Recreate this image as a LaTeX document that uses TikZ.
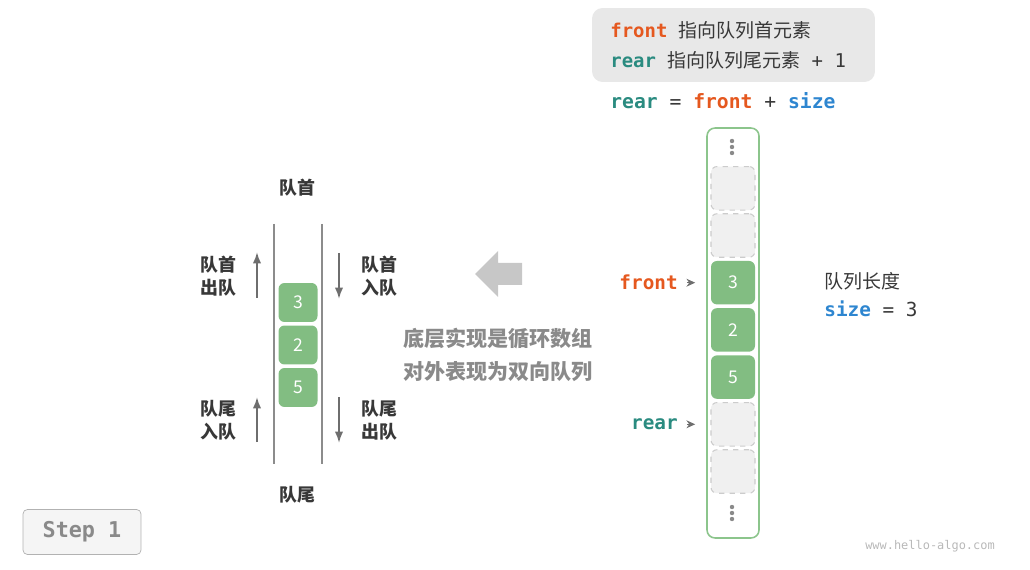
\documentclass[tikz,border=0pt]{standalone}
\usepackage{fontspec}
\setmainfont{Noto Sans CJK SC}
\setmonofont{DejaVu Sans Mono}
\usetikzlibrary{arrows.meta, positioning}

\definecolor{frontc}{HTML}{E5581F}
\definecolor{rearc}{HTML}{2A8B80}
\definecolor{sizec}{HTML}{2E86D0}
\definecolor{cellg}{HTML}{82BD82}
\definecolor{rimg}{HTML}{8CC58C}
\definecolor{slotc}{HTML}{F0F0F0}
\definecolor{txt}{HTML}{383838}
\definecolor{arrg}{HTML}{6E6E6E}
\definecolor{hintc}{HTML}{8A8A8A}

\newcommand{\cw}[2]{{\ttfamily\bfseries\textcolor{#1}{#2}}}

\begin{document}
\begin{tikzpicture}[x=0.02cm, y=-0.02cm,
			every node/.style={font=\fontsize{10.8pt}{13pt}\selectfont, text=txt},
			infobox/.style={fill=black!9, rounded corners=6pt, minimum width=5.66cm,
				minimum height=1.48cm},
			rim/.style={draw=rimg, line width=0.9pt, fill=white, rounded corners=4.5pt,
				minimum width=1.04cm, minimum height=8.2cm},
			cell/.style={fill=cellg, rounded corners=3.4pt, minimum width=0.88cm,
				minimum height=0.87cm, inner sep=0pt, outer sep=0pt, text=white,
				font=\fontsize{10pt}{12pt}\selectfont},
			slot/.style={cell, fill=slotc, draw=black!20, dashed, line width=0.6pt},
			qcell/.style={cell, minimum width=0.78cm, minimum height=0.78cm},
			wall/.style={draw=black!45, line width=0.6pt},
			move/.style={draw=arrg, line width=1.1pt, -{Latex[length=6.5pt, width=4.8pt]}},
			ptr/.style={draw=arrg, line width=0.6pt, -{Stealth[length=5pt, width=4.5pt]},
				shorten <=5pt, shorten >=9pt},
			side/.style={font=\bfseries\fontsize{10.2pt}{13pt}\selectfont, align=center},
			hint/.style={font=\bfseries\fontsize{12pt}{18.7pt}\selectfont, text=hintc,
				align=center},
			]
			\useasboundingbox (0,0) rectangle (1030,570);

			% Info box
			\node[infobox] (info) at (733.5,45) {};
			\node[anchor=west, inner sep=0pt] (line1) at (610,30)
			{\cw{frontc}{front\ }指向队列首元素};
			\node[anchor=west, inner sep=0pt] (line2) at (610,60)
			{\cw{rearc}{rear\ }指向队列尾元素{\ttfamily\ +\ 1}};
			\node[anchor=west, inner sep=0pt, font=\fontsize{11.2pt}{13pt}\selectfont] (rule) at (610,101)
			{\cw{rearc}{rear}{\ttfamily\ =\ }\cw{frontc}{front}{\ttfamily\ +\ }\cw{sizec}{size}};

			% Circular array
			\node[rim] (ring) at (733,333) {};
			\node[slot] (c1) at (733,188.3) {};
			\node[slot] (c2) at (733,235.5) {};
			\node[cell] (c3) at (733,282.7) {3};
			\node[cell] (c4) at (733,329.9) {2};
			\node[cell] (c5) at (733,377.1) {5};
			\node[slot] (c6) at (733,424.3) {};
			\node[slot] (c7) at (733,471.5) {};
			\foreach \y in {141,147,153,507,513,519}
			\fill[hintc] (732,\y) circle (2.2);

			% Pointers
			\node[left=0.66cm of c3, inner sep=0pt, font=\fontsize{11pt}{13pt}\selectfont] (frontlbl) {\cw{frontc}{front}};
			\node[left=0.66cm of c6, inner sep=0pt, font=\fontsize{11pt}{13pt}\selectfont] (rearlbl) {\cw{rearc}{rear}};
			\draw[ptr] (frontlbl) -- (c3);
			\draw[ptr] (rearlbl) -- (c6);

			% Size
			\node[anchor=west, inner sep=0pt] (lenlbl) at (824,281) {队列长度};
			\node[anchor=west, inner sep=0pt, font=\fontsize{11pt}{13pt}\selectfont] (sizelbl) at (824,309)
			{\cw{sizec}{size}{\ttfamily\ =\ 3}};

			% Deque view
			\draw[wall] (274,224) -- (274,464);
			\draw[wall] (322,224) -- (322,464);
			\node[qcell] (q3) at (298,302.5) {3};
			\node[qcell] (q2) at (298,345) {2};
			\node[qcell] (q5) at (298,387.5) {5};
			\node[side] (head) at (297,188) {队首};
			\node[side] (tail) at (297,495) {队尾};

			% Enqueue / dequeue arrows
			\coordinate (hpopA) at (257,298);
			\coordinate (hpopB) at (257,252);
			\coordinate (tpushA) at (257,442);
			\coordinate (tpushB) at (257,397);
			\coordinate (hpushA) at (339,253);
			\coordinate (hpushB) at (339,299);
			\coordinate (tpopA) at (339,397);
			\coordinate (tpopB) at (339,443);
			\draw[move] (hpopA) -- (hpopB);
			\draw[move] (tpushA) -- (tpushB);
			\draw[move] (hpushA) -- (hpushB);
			\draw[move] (tpopA) -- (tpopB);
			\node[side] (hpop) at (218,276) {队首\\出队};
			\node[side] (tpush) at (218,420) {队尾\\入队};
			\node[side] (hpush) at (379,276) {队首\\入队};
			\node[side] (tpop) at (379,420) {队尾\\出队};

			% Big arrow and hint
			\fill[black!22] (522,263) -- (498,263) -- (498,251) -- (475,274)
			-- (498,297) -- (498,285) -- (522,285) -- cycle;
			\node[hint] (hint) at (498,355) {底层实现是循环数组\\对外表现为双向队列};

			% Step and watermark
			\node[draw=black!30, fill=black!4, rounded corners=2.5pt, minimum width=2.36cm,
			minimum height=0.9cm, text=hintc, font=\ttfamily\bfseries\fontsize{12.4pt}{14pt}\selectfont]
			(stepbox) at (82,532) {Step 1};
			\node[text=black!28, font=\ttfamily\fontsize{6.8pt}{8pt}\selectfont] (site) at (930,546)
			{www.hello-algo.com};
		\end{tikzpicture}
\end{document}
